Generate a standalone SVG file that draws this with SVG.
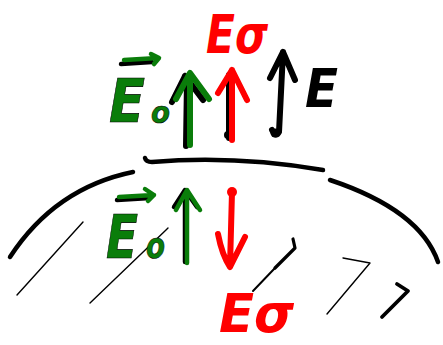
<svg xmlns="http://www.w3.org/2000/svg" width="443" height="345" viewBox="0 0 443 345">
<style>
.ink{fill:none;stroke-linecap:round;stroke-linejoin:round}
.k{stroke:#000}
.g{stroke:#0a7d0a}
.r{stroke:#ff0000}
.thick{stroke-width:6}
.med{stroke-width:4.5}
.thin{stroke-width:1.4}
.lbl{font-family:"DejaVu Sans","Liberation Sans",sans-serif;font-style:oblique;font-weight:bold}
.tg{fill:#0a7d0a;stroke:#000;stroke-width:0.6}
.tr{fill:#ff0000}
.tk{fill:#000}
</style>
<rect width="443" height="345" fill="#fff"/>

<g id="surface">
  <path class="ink k med" d="M145,158 Q146,162 152,162 Q235,155 323,170"/>
  <path class="ink k med" d="M10,257 Q55,188 133,172"/>
  <path class="ink k med" d="M330,180 Q420,210 438,262"/>
</g>

<g id="hatching">
  <path class="ink k thin" d="M83,222 L17,295"/>
  <path class="ink k thin" d="M90,303 L166,230 L168,228"/>
  <path class="ink k" style="stroke-width:2" d="M253,291 L275,268"/>
  <path class="ink k" style="stroke-width:3.2" d="M275,268 L295,248 L293,239"/>
  <path class="ink k thin" d="M327,314 L370,263 L343,258"/>
  <path class="ink k" style="stroke-width:3.8" d="M382,317 L408,291 L397,284"/>
</g>

<g id="arrow-E0-outside">
  <path class="ink k thick" d="M186,146 L187,80 M172,102 L185,76 M185,76 L203,100"/>
  <path class="ink g thick" d="M190,145 L190,75 M176,99 L190,73 L209,99"/>
</g>

<g id="arrow-Esigma-outside">
  <circle cx="228" cy="135" r="4" fill="#000"/>
  <path class="ink k thick" d="M229,138 L229,75"/>
  <path class="ink r thick" d="M232,140 L232,70 M218,93 L232,70 L247,100"/>
</g>

<g id="arrow-E">
  <path class="ink k thick" d="M272,130 Q276,138 279,132 L283,52 M270,78 L283,52 L295,80"/>
  <circle cx="275" cy="133" r="4.5" fill="#000"/>
</g>

<g id="arrow-E0-inside">
  <path class="ink k med" d="M185,262 L185,193 M174,207 L185,190 L197,207"/>
  <path class="ink g med" d="M187,263 L187,192 M176,210 L187,190 L200,210"/>
</g>

<g id="arrow-Esigma-inside">
  <circle cx="232" cy="192" r="5" fill="#ff0000"/>
  <path class="ink r thick" d="M232,192 L230,266 M218,234 Q222,255 230,267 L245,237"/>
</g>

<g id="label-Esigma-top">
  <text class="lbl tr" x="206" y="53" font-size="54" textLength="62" lengthAdjust="spacingAndGlyphs">Eσ</text>
</g>

<g id="label-E0-top">
  <text class="lbl tg" x="109" y="122" font-size="60" textLength="36" lengthAdjust="spacingAndGlyphs">E</text>
  <text class="lbl tg" x="151" y="123" font-size="30" textLength="19" lengthAdjust="spacingAndGlyphs">o</text>
  <path class="ink k med" d="M121,64 L152,62"/>
  <path class="ink g med" d="M124,60 L158,58 M151,54 L159,58 L154,64"/>
</g>

<g id="label-E">
  <text class="lbl tk" x="305" y="107" font-size="54" textLength="33" lengthAdjust="spacingAndGlyphs">E</text>
</g>

<g id="label-E0-inside">
  <text class="lbl tg" x="106" y="258" font-size="60" textLength="32" lengthAdjust="spacingAndGlyphs">E</text>
  <text class="lbl tg" x="146" y="258" font-size="36" textLength="19" lengthAdjust="spacingAndGlyphs">o</text>
  <path class="ink k med" d="M117,200 L150,198"/>
  <path class="ink g med" d="M119,197 L154,195 M145,189 L154,195 L148,201"/>
</g>

<g id="label-Esigma-bottom">
  <text class="lbl tr" x="219" y="332" font-size="54" textLength="75" lengthAdjust="spacingAndGlyphs">Eσ</text>
</g>
</svg>
